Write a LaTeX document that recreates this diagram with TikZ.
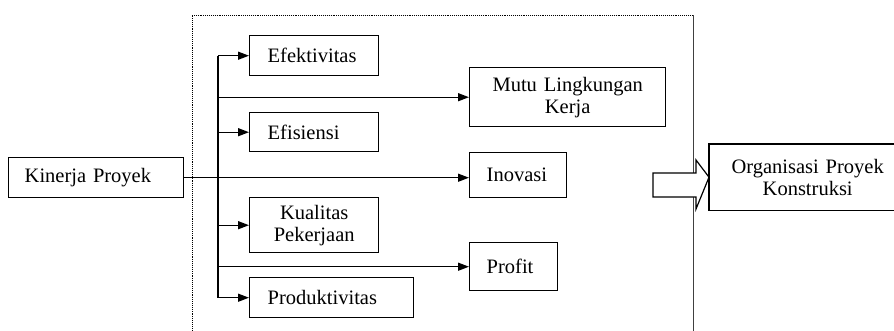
\documentclass[tikz,border=0pt]{standalone}
\usepackage{fontspec}
\setmainfont{Liberation Serif}
\usetikzlibrary{arrows.meta}
\newcommand\dfont{\fontsize{20.5}{22}\selectfont}
\begin{document}
\begin{tikzpicture}[x=1pt,y=-1pt,
  box/.style={draw, line width=1.4pt, fill=white, inner ysep=0pt, font=\dfont, anchor=north west},
  lbox/.style={box, align=left},
  cbox/.style={box, align=center, inner xsep=0pt},
  conn/.style={line width=1.4pt},
  arr/.style={conn, -{Triangle[length=11pt,width=8pt]}}]
\useasboundingbox (0,0) rectangle (894,330);
\clip (0,0) rectangle (894,330);
\fill[white] (0,0) rectangle (894,330);
% frame
\draw[line width=0.9pt, densely dotted] (192,340) -- (192,15) -- (693,15);
\draw[line width=0.8pt, black!75] (693,15) -- (693,340);
% nodes
\node[lbox, minimum width=175, minimum height=40, text width=143, inner xsep=16] (kin) at (8,157) {Kinerja Proyek};
\node[lbox, minimum width=129, minimum height=40, text width=93, inner xsep=18] (efek) at (249,35) {Efektivitas};
\node[lbox, minimum width=129, minimum height=39, text width=93, inner xsep=18] (efis) at (249,112) {Efisiensi};
\node[cbox, minimum width=129, minimum height=55, text width=129] (kual) at (249,197) {Kualitas\\Pekerjaan};
\node[lbox, minimum width=164, minimum height=40, text width=128, inner xsep=18] (prod) at (249,277) {Produktivitas};
\node[cbox, minimum width=196, minimum height=59, text width=196] (mutu) at (469,67) {Mutu Lingkungan\\Kerja};
\node[lbox, minimum width=97, minimum height=45, text width=63, inner xsep=17] (inov) at (469,152) {Inovasi};
\node[lbox, minimum width=88, minimum height=48, text width=54, inner xsep=17] (prof) at (469,242) {Profit};
\node[cbox, draw=none, fill=none, minimum width=196, minimum height=65, text width=196] (org) at (709,144) {Organisasi Proyek\\Konstruksi};
\draw[line width=1.4pt] (920,0 |- org.north) -- (org.north west) -- (org.south west) -- (920,0 |- org.south);
% trunk
\coordinate (tr) at (218,0);
\draw[conn] (tr |- efek.west) -- (tr |- prod.west);
\draw[arr] (tr |- efek.west) -- (efek.west);
\draw[arr] (tr |- efis.west) -- (efis.west);
\draw[arr] (tr |- kual.west) -- (kual.west);
\draw[arr] (tr |- prod.west) -- (prod.west);
\draw[arr] (tr |- mutu.west) -- (mutu.west);
\draw[arr] (tr |- prof.west) -- (prof.west);
\draw[arr] (kin.east) -- (kin.east -| inov.west);
% block arrow
\draw[line width=1.2pt, fill=white] (653,173) -- (696,173) -- (696,160) -- (org.west) -- (696,209) -- (696,197) -- (653,197) -- cycle;
\end{tikzpicture}
\end{document}
